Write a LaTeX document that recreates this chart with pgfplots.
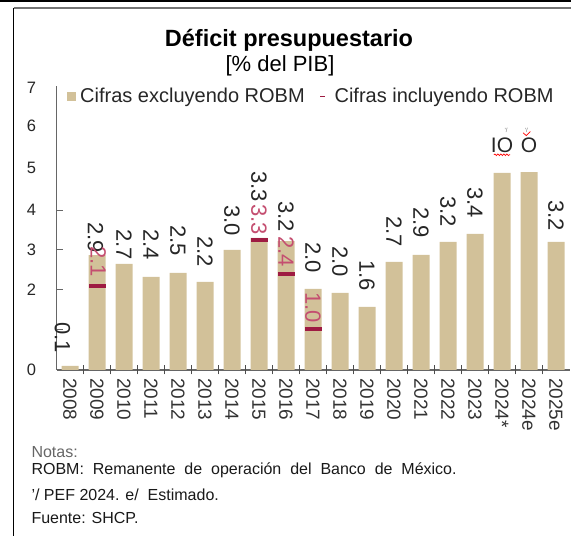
\documentclass[border=0pt]{standalone}
\usepackage{fontspec}
\setmainfont{Liberation Sans}
\usepackage{pgfplots}
\usepackage{pgfplotstable}
\pgfplotsset{compat=1.18}
\usetikzlibrary{decorations.pathmorphing}
\definecolor{tanbar}{RGB}{210,193,153}
\definecolor{robm}{RGB}{158,27,66}
\definecolor{robmtxt}{RGB}{196,78,112}
\newcommand{\fs}[1]{\fontsize{#1}{#1}\selectfont}

\pgfplotstableread{
x y
0 0.10
1 2.87
2 2.65
3 2.33
4 2.43
5 2.20
6 3.00
7 3.30
8 3.22
9 2.03
10 1.93
11 1.58
12 2.70
13 2.88
14 3.20
15 3.40
16 4.93
17 4.95
18 3.20
}\bars

\pgfplotstableread{
x y
1 2.10
7 3.25
8 2.40
9 1.03
}\robmdata

\pgfplotstableread{
x y lab
-0.28 0.43 0.1
0.94 2.93 2.9
2 2.75 2.7
3 2.75 2.4
4 2.85 2.5
5 2.58 2.2
6 3.35 3.0
7 4.20 3.3
8 3.45 3.2
9 2.43 2.0
10 2.33 2.0
11 1.98 1.6
12 3.08 2.7
13 3.30 2.9
14 3.58 3.2
15 3.80 3.4
18 3.48 3.2
}\blacklabels

\pgfplotstableread{
x y lab
1.05 2.33 2.1
7 3.38 3.3
8 2.58 2.4
9 1.18 1.0
}\redlabels

\begin{document}
\begin{tikzpicture}
\useasboundingbox (0,0) rectangle (571bp,536bp);
% frame
\draw[black, line width=1.5bp] (0,535bp) -- (571bp,535bp);
\draw[black!55, line width=1.5bp] (13.5bp,528bp) -- (571bp,528bp);
\draw[black, line width=1.3bp] (13.5bp,528bp) -- (13.5bp,0);
% titles
\node[font=\fs{23.5bp}\bfseries] at (289bp,496bp) {Déficit presupuestario};
\node[font=\fs{22bp}] at (280bp,470bp) {[\% del PIB]};

\begin{axis}[
  at={(56.5bp,166bp)}, anchor=south west,
  scale only axis, width=513bp, height=284bp,
  xmin=-0.5, xmax=18.5, ymin=0, ymax=7.1,
  clip=false,
  axis x line*=bottom, axis y line*=left,
  axis line style={black!60, line width=1.2bp},
  xtick={0,...,18},
  xticklabels={2008,2009,2010,2011,2012,2013,2014,2015,2016,2017,2018,2019,2020,2021,2022,2023,2024*,2024e,2025e},
  xticklabel style={font=\fs{19bp}, text=black!80, yshift=-8bp, rotate=-90, anchor=west, inner sep=0pt},
  major tick length=0pt,
  extra x ticks={0.5,1.5,...,17.5},
  extra x tick labels={},
  extra x tick style={major tick length=9bp, tick align=center, tick style={black!70, line width=1bp}},
  ytick={0,2,3,4,5.05,6.1,7.05},
  yticklabels={0,2,3,4,5,6,7},
  yticklabel style={font=\fs{16.5bp}, text=black!85, xshift=-17bp},
  extra y ticks={1,2,3,4},
  extra y tick labels={},
  extra y tick style={major tick length=6bp, tick align=inside, tick style={black!60, line width=1bp}},
  /pgf/number format/assume math mode=true,
  legend cell align=left,
  legend style={draw=none, fill=none, inner sep=0pt, at={(axis cs:-0.11,6.84)}, anchor=west,
    font=\fs{20bp}, legend columns=2,
    nodes={inner sep=1bp, text=black!85},
    /tikz/every odd column/.append style={column sep=3bp},
    /tikz/every even column/.append style={column sep=14bp}},
]
\addplot[ybar, bar width=17bp, fill=tanbar, draw=none,
  legend image code/.code={\fill[tanbar] (0bp,-4.5bp) rectangle (9bp,4.5bp);}]
  table[x=x,y=y] {\bars};
\addlegendentry{Cifras excluyendo ROBM}
\addplot[only marks, mark=-, mark size=8.5bp, mark options={line width=4bp, robm},
  legend image code/.code={\draw[robm, line width=1.3bp] (0bp,0bp) -- (5bp,0bp); \path (10bp,0bp);}]
  table[x=x,y=y] {\robmdata};
\addlegendentry{Cifras incluyendo ROBM}
\addplot[only marks, mark=none, forget plot, nodes near coords, point meta=explicit symbolic,
  nodes near coords style={font=\fs{22bp}, text=black!85, anchor=east, rotate=-90, inner sep=0pt}]
  table[x=x,y=y,meta=lab] {\blacklabels};
\addplot[only marks, mark=none, forget plot, nodes near coords, point meta=explicit symbolic,
  nodes near coords style={font=\fs{22bp}, text=robmtxt, anchor=east, rotate=-90, inner sep=0pt}]
  table[x=x,y=y,meta=lab] {\redlabels};
% garbled labels above 2024 bars, as in the source
\node[font=\fs{21bp}, text=black!85] at (axis cs:16,5.63) {IO};
\node[font=\fs{21bp}, text=black!85] at (axis cs:17,5.63) {O};
\node[font=\fs{6bp}, text=black!60] at (axis cs:16.15,5.98) {'/};
\node[font=\fs{6bp}, text=black!60] at (axis cs:16.9,6.0) {'/};
\draw[red, line width=0.7bp, decorate, decoration={snake, amplitude=0.8bp, segment length=3bp}]
  (axis cs:15.7,5.38) -- (axis cs:16.3,5.38);
\draw[red, line width=0.7bp] (axis cs:16.78,5.93) -- (axis cs:16.9,5.86) -- (axis cs:17.05,5.96);
\end{axis}

% notes
\node[font=\fs{16bp}, text=black!60, anchor=west] at (28bp,84bp) {Notas:};
\node[font=\fs{16bp}, anchor=west, text=black!90] at (28bp,66bp) {ROBM: \ Remanente \ de \ operación \ del \ Banco \ de \ México.};
\node[font=\fs{16bp}, anchor=west, text=black!90] at (28bp,41bp) {'/ PEF 2024. e/ \ Estimado.};
\node[font=\fs{16bp}, anchor=west, text=black!90] at (28bp,18bp) {Fuente: SHCP.};
\end{tikzpicture}
\end{document}
